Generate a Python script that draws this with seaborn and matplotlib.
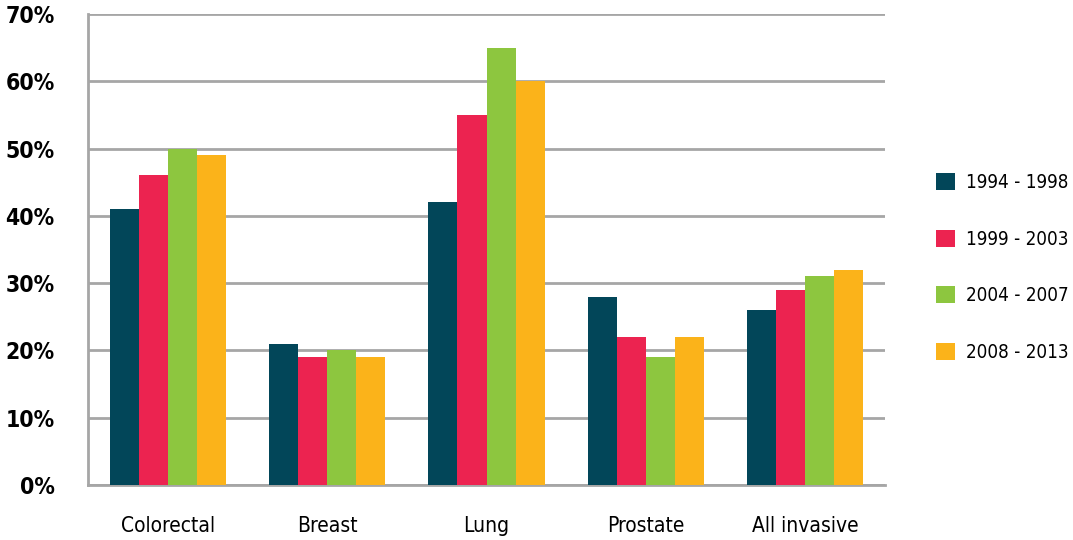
import matplotlib.pyplot as plt
import numpy as np
import pandas as pd
import seaborn as sns
from matplotlib import font_manager

categories = ["Colorectal", "Breast", "Lung", "Prostate", "All invasive"]
periods = ["1994 - 1998", "1999 - 2003", "2004 - 2007", "2008 - 2013"]
rates_1994 = [41, 21, 42, 28, 26]
rates_1999 = [46, 19, 55, 22, 29]
rates_2004 = [50, 20, 65, 19, 31]
rates_2008 = [49, 19, 60, 22, 32]
y_ticks = [0, 10, 20, 30, 40, 50, 60, 70]
colors = ["#024659", "#EC2350", "#8DC63F", "#FBB31A"]

# look for a condensed face, fall back to DejaVu Sans
condensed = [f for f in font_manager.fontManager.ttflist if f.stretch == "condensed" or "Narrow" in f.name or "Condensed" in f.name]
if condensed:
    FAMILY = condensed[0].name
    STRETCH = "condensed"
else:
    FAMILY = "DejaVu Sans"
    STRETCH = "normal"

sns.set_theme(style="white")
plt.rcParams["font.family"] = [FAMILY, "DejaVu Sans"]
plt.rcParams["font.stretch"] = STRETCH

rows = []
for period, values in zip(periods, [rates_1994, rates_1999, rates_2004, rates_2008]):
    for cat, v in zip(categories, values):
        rows.append({"category": cat, "period": period, "rate": v})
data = pd.DataFrame(rows)

fig = plt.figure(figsize=(10.73, 5.40), dpi=100)
ax = fig.add_axes([88 / 1073, 55 / 540, 797 / 1073, 471 / 540])

sns.barplot(data=data, x="category", y="rate", hue="period", order=categories,
            hue_order=periods, palette=colors, width=0.73, saturation=1,
            edgecolor="none", linewidth=0, ax=ax, zorder=3)

ax.set_xlim(-0.5, len(categories) - 0.5)
ax.set_ylim(0, 70)
ax.set_yticks(y_ticks)
ax.set_yticklabels([f"{t}%" for t in y_ticks], fontsize=16.5, fontweight="bold", color="black")
ax.yaxis.grid(True, color="#A6A6A6", linewidth=2, zorder=0)
ax.set_axisbelow(True)
ax.tick_params(axis="y", length=10, width=2, color="#A6A6A6", pad=14)
ax.set_xticks(range(len(categories)))
ax.set_xticklabels(categories, fontsize=15, color="black")
ax.tick_params(axis="x", which="major", length=0, pad=22)
ax.set_xticks(np.arange(-0.5, len(categories)), minor=True)
ax.tick_params(axis="x", which="minor", length=9, width=2, color="#A6A6A6")
ax.set_xlabel("")
ax.set_ylabel("")

for side in ["top", "right"]:
    ax.spines[side].set_visible(False)
for side in ["left", "bottom"]:
    ax.spines[side].set_color("#A6A6A6")
    ax.spines[side].set_linewidth(2)

handles, labels = ax.get_legend_handles_labels()
ax.legend_.remove()
fig.legend(handles, labels, loc="center left", bbox_to_anchor=(936 / 1073, 0.505),
           frameon=False, fontsize=13.5, handlelength=1.0, handleheight=1.0,
           labelspacing=2.0, handletextpad=0.6, borderpad=0, borderaxespad=0,
           labelcolor="black")

fig.savefig("out.png", dpi=100)
